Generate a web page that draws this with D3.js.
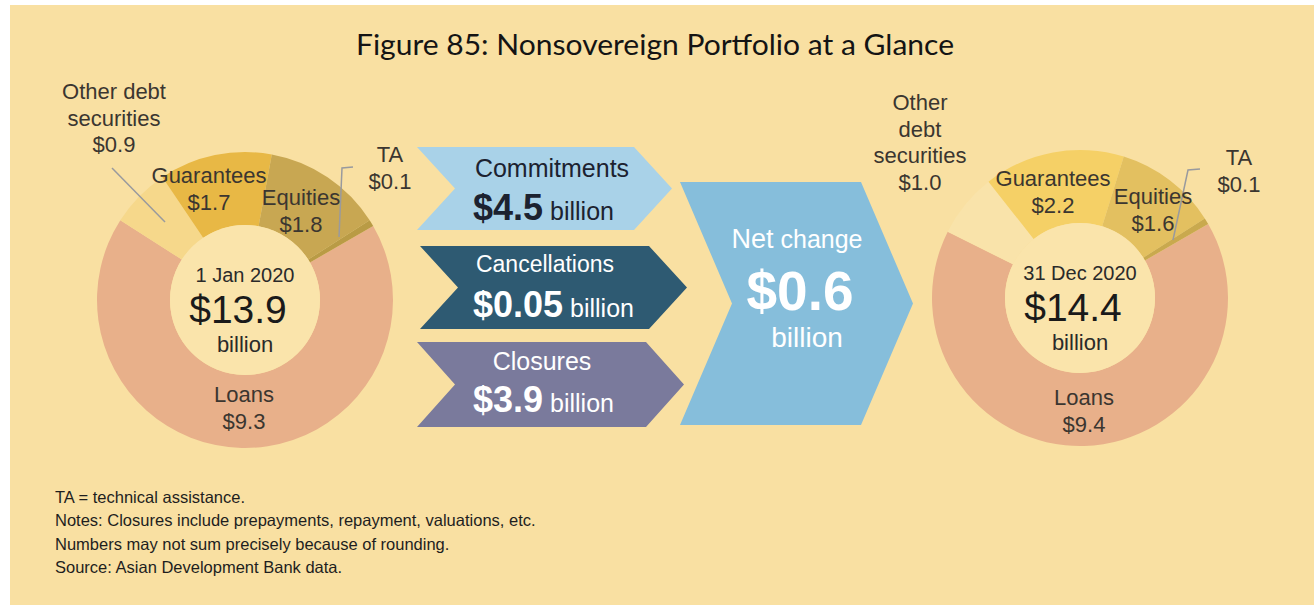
<!DOCTYPE html>
<html>
<head>
<meta charset="utf-8">
<script src="https://cdn.jsdelivr.net/npm/d3@7"></script>
<style>
  html, body { margin: 0; padding: 0; background: #fff; }
  svg { display: block; }
  text { font-family: "Liberation Sans", Arial, sans-serif; }
</style>
</head>
<body>
<svg id="chart" width="1314" height="605"></svg>
<script>
// portfolio components, in drawing order (clockwise from upper right)
var segments = ["Loans", "Other debt securities", "Guarantees", "Equities", "TA"];
var startValues = [9.3, 0.9, 1.7, 1.8, 0.1];
var endValues = [9.4, 1.0, 2.2, 1.6, 0.1];
var totals = [13.9, 14.4];
var dates = ["1 Jan 2020", "31 Dec 2020"];

var flowNames = ["Commitments", "Cancellations", "Closures"];
var flowValues = [4.5, 0.05, 3.9];
var netChange = 0.6;

var notes = [
  "TA = technical assistance.",
  "Notes: Closures include prepayments, repayment, valuations, etc.",
  "Numbers may not sum precisely because of rounding.",
  "Source: Asian Development Bank data."
];

var svg = d3.select("#chart");

svg.append("rect")
   .attr("x", 10).attr("y", 5)
   .attr("width", 1304).attr("height", 600)
   .attr("fill", "#f9e0a2");

svg.append("text")
   .attr("x", 655).attr("y", 55)
   .attr("text-anchor", "middle")
   .attr("textLength", 598)
   .attr("lengthAdjust", "spacingAndGlyphs")
   .style("font-family", "Lato, 'Open Sans', sans-serif")
   .style("font-size", "28px")
   .attr("fill", "#141414")
   .text("Figure 85: Nonsovereign Portfolio at a Glance");

var deg = Math.PI / 180;
var pie = d3.pie().sort(null)
            .startAngle(60 * deg)
            .endAngle(420 * deg);
var arc = d3.arc().innerRadius(75).outerRadius(148);

function fmt(v) { return "$" + d3.format(".1f")(v); }

// label layout for each donut: [lines, x, y of first baseline]
var donuts = [
  { cx: 245, cy: 300, values: startValues, total: totals[0], date: dates[0],
    colors: ["#e8b08a", "#f6d88b", "#e8b845", "#c8a752", "#b99b45"],
    labels: [
      { lines: ["Loans"], x: 244, y: 402 },
      { lines: ["Other debt", "securities"], x: 114, y: 99 },
      { lines: ["Guarantees"], x: 209, y: 183 },
      { lines: ["Equities"], x: 301, y: 205 },
      { lines: ["TA"], x: 390, y: 162 }
    ],
    leaders: [
      [[112, 168], [165, 222]],
      [[353, 167], [342, 168], [339, 237]]
    ] },
  { cx: 1080, cy: 298, values: endValues, total: totals[1], date: dates[1],
    colors: ["#e8b08a", "#f9e3aa", "#f5d066", "#e3c060", "#c9a94e"],
    labels: [
      { lines: ["Loans"], x: 1084, y: 405 },
      { lines: ["Other", "debt", "securities"], x: 920, y: 110 },
      { lines: ["Guarantees"], x: 1053, y: 186 },
      { lines: ["Equities"], x: 1153, y: 204 },
      { lines: ["TA"], x: 1239, y: 165 }
    ],
    leaders: [
      [[1200, 169], [1188, 170], [1173, 240]]
    ] }
];

donuts.forEach(function(dn) {
  var g = svg.append("g").attr("transform", "translate(" + dn.cx + "," + dn.cy + ")");

  g.selectAll("path.slice")
   .data(pie(dn.values))
   .enter().append("path")
   .attr("class", "slice")
   .attr("d", arc)
   .attr("fill", function(d, i) { return dn.colors[i]; });

  g.append("circle").attr("r", 75).attr("fill", "#fae4ab");

  g.append("text").attr("y", -18).attr("text-anchor", "middle")
   .style("font-size", "20px").attr("fill", "#2a2a2a").text(dn.date);
  g.append("text").attr("x", -7).attr("y", 23).attr("text-anchor", "middle")
   .style("font-size", "39px").attr("fill", "#1a1a1a").text(fmt(dn.total));
  g.append("text").attr("y", 52).attr("text-anchor", "middle")
   .style("font-size", "22px").attr("fill", "#2a2a2a").text("billion");

  dn.leaders.forEach(function(pts) {
    svg.append("path")
       .attr("d", d3.line()(pts))
       .attr("fill", "none")
       .attr("stroke", "#999a9e")
       .attr("stroke-width", 1.5);
  });

  dn.labels.forEach(function(lb, i) {
    var t = svg.append("text")
               .attr("text-anchor", "middle")
               .style("font-size", "22px")
               .attr("fill", "#3b3630");
    lb.lines.concat([fmt(dn.values[i])]).forEach(function(s, k) {
      t.append("tspan").attr("x", lb.x).attr("y", lb.y + k * 26.5).text(s);
    });
  });
});

// chevron arrows
function chevron(x0, y0, x1, y1, depth) {
  var ym = (y0 + y1) / 2;
  return "M" + x0 + "," + y0 + "L" + (x1 - depth) + "," + y0 + "L" + x1 + "," + ym +
         "L" + (x1 - depth) + "," + y1 + "L" + x0 + "," + y1 + "L" + (x0 + depth) + "," + ym + "Z";
}

var flowBoxes = [
  { y0: 147, y1: 230, x0: 417, x1: 672, fill: "#a9d2e8", ink: "#1c2230",
    nameSize: 25, nameX: 552, nameY: 177, valX: 473, valY: 220 },
  { y0: 246, y1: 329, x0: 420, x1: 687, fill: "#2e5a72", ink: "#ffffff",
    nameSize: 23, nameX: 545, nameY: 272, valX: 473, valY: 317 },
  { y0: 342, y1: 427, x0: 417, x1: 684, fill: "#7a7a9c", ink: "#ffffff",
    nameSize: 25, nameX: 542, nameY: 370, valX: 473, valY: 412 }
];

flowBoxes.forEach(function(b, i) {
  svg.append("path").attr("d", chevron(b.x0, b.y0, b.x1, b.y1, 38)).attr("fill", b.fill);
  svg.append("text").attr("x", b.nameX).attr("y", b.nameY)
     .attr("text-anchor", "middle")
     .style("font-size", b.nameSize + "px").attr("fill", b.ink)
     .text(flowNames[i]);
  var t = svg.append("text").attr("x", b.valX).attr("y", b.valY).attr("fill", b.ink);
  t.append("tspan").style("font-size", "36px").style("font-weight", "bold")
   .text("$" + (flowValues[i] < 0.1 ? d3.format(".2f")(flowValues[i]) : d3.format(".1f")(flowValues[i])));
  t.append("tspan").style("font-size", "25px").text(" billion");
});

svg.append("path").attr("d", chevron(680, 182, 913, 425, 52)).attr("fill", "#86bedb");
var nt = svg.append("text").attr("x", 797).attr("y", 248)
            .attr("text-anchor", "middle").attr("fill", "#ffffff");
nt.append("tspan").style("font-size", "27px").text("Net");
nt.append("tspan").style("font-size", "25px").text(" change");
svg.append("text").attr("x", 800).attr("y", 310).attr("text-anchor", "middle")
   .attr("fill", "#ffffff").style("font-size", "55px").style("font-weight", "bold")
   .text("$" + d3.format(".1f")(netChange));
svg.append("text").attr("x", 807).attr("y", 347).attr("text-anchor", "middle")
   .attr("fill", "#ffffff").style("font-size", "28px").text("billion");

svg.selectAll("text.note")
   .data(notes)
   .enter().append("text")
   .attr("class", "note")
   .attr("x", 55)
   .attr("y", function(d, i) { return 503 + i * 23.3; })
   .style("font-size", "16.5px")
   .attr("fill", "#1e1e1e")
   .text(function(d) { return d; });
</script>
</body>
</html>
